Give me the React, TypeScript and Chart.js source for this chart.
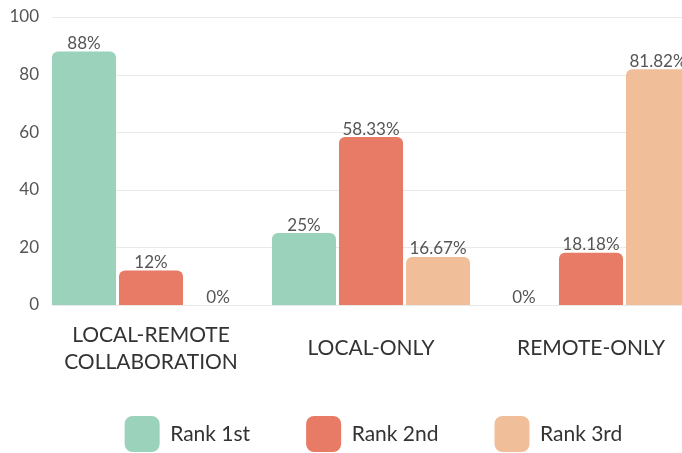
import React, { useEffect, useRef } from "react";
import { Chart, registerables } from "chart.js";

Chart.register(...registerables);

const categories: (string | string[])[] = [["LOCAL-REMOTE", "COLLABORATION"], "LOCAL-ONLY", "REMOTE-ONLY"];
const seriesNames = ["Rank 1st", "Rank 2nd", "Rank 3rd"];
const rank1 = [88, 25, 0];
const rank2 = [12, 58.33, 18.18];
const rank3 = [0, 16.67, 81.82];
const seriesColors = ["#9AD2BC", "#E87B66", "#F1BE9A"];
const yMin = 0;
const yMax = 100;
const yStep = 20;

const FONT = "Lato, 'Open Sans', sans-serif";

const gridPlugin = {
  id: "customGrid",
  beforeDatasetsDraw(chart: any) {
    const { ctx, chartArea, scales } = chart;
    const y = scales.y;
    ctx.save();
    ctx.strokeStyle = "#e9e9e9";
    ctx.lineWidth = 1;
    y.ticks.forEach((t: any) => {
      const py = Math.round(y.getPixelForValue(t.value)) + 0.5;
      ctx.beginPath();
      ctx.moveTo(chartArea.left + 11, py);
      ctx.lineTo(chartArea.right + 40, py);
      ctx.stroke();
    });
    ctx.restore();
  },
};

const valueLabelPlugin = {
  id: "valueLabels",
  afterDatasetsDraw(chart: any) {
    const { ctx } = chart;
    ctx.save();
    ctx.font = `17px ${FONT}`;
    ctx.fillStyle = "#555555";
    ctx.textAlign = "center";
    ctx.textBaseline = "alphabetic";
    chart.data.datasets.forEach((ds: any, di: number) => {
      const meta = chart.getDatasetMeta(di);
      meta.data.forEach((el: any, i: number) => {
        const v = ds.data[i];
        ctx.fillText(`${v}%`, el.x, el.y - 2.5);
      });
    });
    ctx.restore();
  },
};

const legendShiftPlugin = {
  id: "legendShift",
  afterLayout(chart: any) {
    const l = chart.legend;
    if (!l) return;
    l.top -= 11;
    l.bottom -= 11;
    l.left += 23;
    l.right += 23;
  },
};

export default function App() {
  const ref = useRef<HTMLCanvasElement | null>(null);

  useEffect(() => {
    if (!ref.current) return;
    const data = [rank1, rank2, rank3];
    const chart = new Chart(ref.current, {
      type: "bar",
      data: {
        labels: categories,
        datasets: seriesNames.map((name, i) => ({
          label: name,
          data: data[i],
          backgroundColor: seriesColors[i],
          borderRadius: 6,
          borderSkipped: "bottom",
          categoryPercentage: 0.914,
          barPercentage: 0.955,
        })),
      },
      options: {
        responsive: false,
        animation: false,
        devicePixelRatio: 1,
        layout: { padding: { top: 17, right: 43, left: 0, bottom: 0 } },
        font: { family: FONT },
        scales: {
          x: {
            grid: { display: false, drawTicks: false },
            border: { display: false },
            ticks: {
              color: "#333333",
              font: { family: FONT, size: 21, lineHeight: 1.286 },
              padding: 30,
              crossAlign: "center",
              maxRotation: 0,
              autoSkip: false,
            },
            afterFit(scale: any) {
              scale.height = 66;
            },
          },
          y: {
            min: yMin,
            max: yMax,
            grid: { display: false, drawTicks: false },
            border: { display: false },
            ticks: {
              stepSize: yStep,
              color: "#555555",
              font: { family: FONT, size: 17 },
              padding: 2,
            },
            afterFit(scale: any) {
              scale.width = 41;
            },
          },
        },
        plugins: {
          tooltip: { enabled: false },
          legend: {
            position: "bottom",
            labels: {
              boxWidth: 35,
              boxHeight: 36,
              useBorderRadius: true,
              borderRadius: 8,
              padding: 56,
              color: "#333333",
              font: { family: FONT, size: 21 },
            },
          },
        },
      },
      plugins: [gridPlugin, valueLabelPlugin, legendShiftPlugin],
    } as any);
    return () => chart.destroy();
  }, []);

  return (
    <div style={{ position: "fixed", left: 0, top: 0, width: 682, height: 453, overflow: "hidden", background: "#fff" }}>
      <canvas ref={ref} width={744} height={473} style={{ display: "block" }} />
    </div>
  );
}
